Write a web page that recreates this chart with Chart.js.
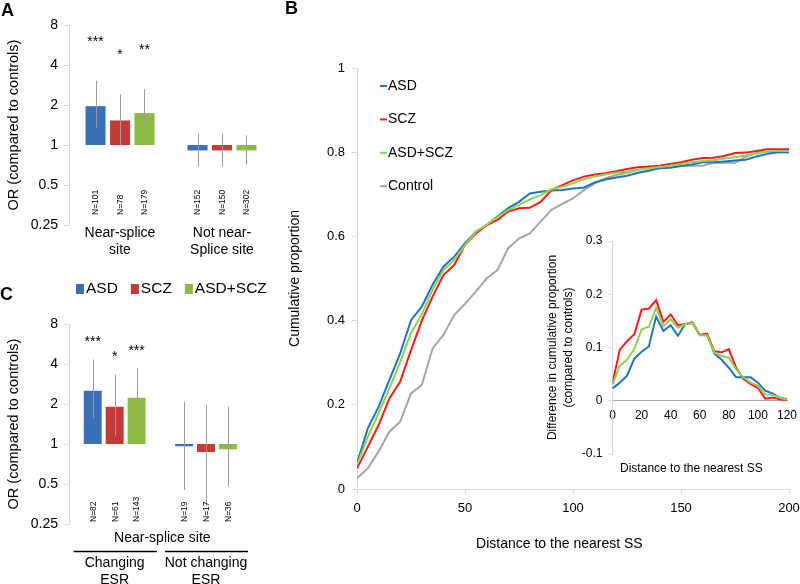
<!DOCTYPE html>
<html><head><meta charset="utf-8">
<script src="https://cdn.jsdelivr.net/npm/chart.js@4.4.1/dist/chart.umd.min.js"></script>
<style>
html,body{margin:0;padding:0;background:#fff;}
#wrap{position:relative;width:800px;height:584px;overflow:hidden;background:#fff;font-family:'Liberation Sans',Arial,sans-serif;}
#wrap canvas{position:absolute;}
.plbl{position:absolute;font-weight:bold;font-size:18px;line-height:18px;color:#000;}
</style></head><body>
<div id="wrap">
<canvas id="cA" width="280" height="268" style="left:0px;top:0px"></canvas>
<canvas id="cC" width="280" height="316" style="left:0px;top:268px"></canvas>
<canvas id="cB" width="550" height="584" style="left:270px;top:0px"></canvas>
<canvas id="cI" width="280" height="260" style="left:540px;top:225px"></canvas>
<div class="plbl" style="left:1px;top:1px">A</div>
<div class="plbl" style="left:285px;top:-1px">B</div>
<div class="plbl" style="left:0px;top:285px">C</div>
</div>
<script>
// ---------- shared ----------
const SERIES = ['ASD', 'SCZ', 'ASD+SCZ'];
const BAR_COLORS = ['#3a70b8', '#c23b37', '#8cbb45'];

// ---------- Panel A: OR, near-splice vs not ----------
const A_LABELS = [['Near-splice', 'site'], ['Not near-', 'Splice site']];
const A_OR_ASD = [1.96, 0.91];
const A_OR_SCZ = [1.53, 0.91];
const A_OR_ALL = [1.74, 0.91];
const A_LO_ASD = [1.34, 0.69];
const A_LO_SCZ = [1.0, 0.69];
const A_LO_ALL = [1.38, 0.71];
const A_HI_ASD = [3.04, 1.22];
const A_HI_SCZ = [2.41, 1.22];
const A_HI_ALL = [2.63, 1.18];
const A_N_ASD = [101, 152];
const A_N_SCZ = [78, 150];
const A_N_ALL = [179, 302];
const A_SIG_ASD = ['***', ''];
const A_SIG_SCZ = ['*', ''];
const A_SIG_ALL = ['**', ''];

// ---------- Panel C: OR, changing vs not changing ESR ----------
const C_HEADER = 'Near-splice site';
const C_LABELS = [['Changing', 'ESR'], ['Not changing', 'ESR']];
const C_OR_ASD = [2.52, 0.96];
const C_OR_SCZ = [1.91, 0.87];
const C_OR_ALL = [2.23, 0.915];
const C_LO_ASD = [1.55, 0.45];
const C_LO_SCZ = [1.16, 0.34];
const C_LO_ALL = [1.42, 0.48];
const C_HI_ASD = [4.32, 2.08];
const C_HI_SCZ = [3.33, 1.96];
const C_HI_ALL = [3.73, 1.91];
const C_N_ASD = [82, 19];
const C_N_SCZ = [61, 17];
const C_N_ALL = [143, 36];
const C_SIG_ASD = ['***', ''];
const C_SIG_SCZ = ['*', ''];
const C_SIG_ALL = ['***', ''];

const OR_TICKS = [0.25, 0.5, 1, 2, 4, 8];

// ---------- Panel B: cumulative proportion ----------
const B_DIST = [0,5,10,15,20,25,30,35,40,45,50,55,60,65,70,75,80,85,90,95,100,105,110,115,120,125,130,135,140,145,150,155,160,165,170,175,180,185,190,195,200];
const B_ASD  = [0.061,0.144,0.195,0.259,0.322,0.401,0.433,0.485,0.528,0.552,0.584,0.611,0.627,0.647,0.667,0.682,0.702,0.706,0.709,0.710,0.714,0.716,0.728,0.735,0.740,0.744,0.751,0.756,0.762,0.763,0.767,0.771,0.776,0.776,0.778,0.780,0.782,0.790,0.796,0.800,0.800];
const B_SCZ  = [0.049,0.100,0.152,0.215,0.255,0.330,0.400,0.457,0.508,0.532,0.580,0.607,0.626,0.639,0.659,0.667,0.668,0.682,0.710,0.722,0.733,0.742,0.747,0.750,0.755,0.760,0.764,0.766,0.768,0.772,0.776,0.782,0.786,0.787,0.791,0.798,0.799,0.803,0.807,0.807,0.807];
const B_ALL  = [0.057,0.124,0.180,0.239,0.302,0.370,0.415,0.473,0.520,0.544,0.580,0.611,0.627,0.646,0.663,0.675,0.688,0.698,0.712,0.718,0.726,0.736,0.742,0.747,0.751,0.754,0.758,0.762,0.765,0.768,0.772,0.776,0.779,0.781,0.785,0.788,0.792,0.797,0.802,0.803,0.803];
const B_CTRL = [0.025,0.049,0.089,0.136,0.160,0.227,0.247,0.334,0.366,0.413,0.440,0.469,0.500,0.520,0.572,0.595,0.607,0.635,0.663,0.677,0.690,0.710,0.726,0.738,0.746,0.751,0.758,0.762,0.766,0.768,0.768,0.768,0.768,0.775,0.775,0.775,0.789,0.799,0.800,0.800,0.800];
const B_NAMES = ['ASD', 'SCZ', 'ASD+SCZ', 'Control'];
const LINE_COLORS = {'ASD': '#1f74c4', 'SCZ': '#ff1a1a', 'ASD+SCZ': '#92d050', 'Control': '#a6a6a6'};

// ---------- Inset: difference vs controls ----------
const I_DIST = [0,5,10,15,20,25,30,35,40,45,50,55,60,65,70,75,80,85,90,95,100,105,110,115,120];
const I_ASD = [0.023,0.034,0.047,0.079,0.092,0.102,0.158,0.131,0.142,0.122,0.144,0.146,0.123,0.125,0.089,0.077,0.062,0.044,0.044,0.044,0.034,0.019,0.014,0.006,0.003];
const I_SCZ = [0.033,0.096,0.112,0.125,0.171,0.173,0.189,0.148,0.162,0.142,0.144,0.147,0.124,0.126,0.093,0.091,0.097,0.062,0.041,0.031,0.024,0.004,0.006,0.003,0.001];
const I_ALL = [0.030,0.066,0.077,0.097,0.134,0.139,0.175,0.140,0.153,0.137,0.144,0.146,0.123,0.123,0.091,0.084,0.081,0.059,0.044,0.034,0.028,0.012,0.011,0.006,0.002];

// ======================================================
const FONT = "'Liberation Sans', Arial, Helvetica, sans-serif";
Chart.defaults.font.family = FONT;
Chart.defaults.color = '#000';
Chart.defaults.animation = false;
const AXIS_GREY = '#d9d9d9';

const barExtras = {
  id: 'barExtras',
  afterDatasetsDraw(chart, args, o) {
    if (!o || !o.on) return;
    const ctx = chart.ctx, ys = chart.scales.y, area = chart.chartArea;
    ctx.save();
    chart.data.datasets.forEach((ds, i) => {
      chart.getDatasetMeta(i).data.forEach((bar, j) => {
        const x = Math.round(bar.x) + 0.5;
        const yHi = ys.getPixelForValue(ds.hi[j]);
        const yLo = ys.getPixelForValue(ds.lo[j]);
        ctx.strokeStyle = '#9c9c9c';
        ctx.lineWidth = 1;
        ctx.beginPath(); ctx.moveTo(x, yHi); ctx.lineTo(x, yLo); ctx.stroke();
        ctx.save();
        ctx.translate(bar.x + 0.5, area.bottom - o.nOffset);
        ctx.rotate(-Math.PI / 2);
        ctx.font = '8.5px ' + FONT;
        ctx.fillStyle = '#000';
        ctx.textAlign = 'left';
        ctx.textBaseline = 'middle';
        ctx.fillText('N=' + ds.n[j], 0, 0);
        ctx.restore();
        if (ds.sig[j]) {
          ctx.font = '14px ' + FONT;
          ctx.fillStyle = '#000';
          ctx.textAlign = 'center';
          ctx.textBaseline = 'middle';
          ctx.fillText(ds.sig[j], bar.x, yHi - o.starGap + 3);
        }
      });
    });
    if (o.header) {
      const xs = chart.scales.x;
      ctx.font = '14px ' + FONT;
      ctx.fillStyle = '#000';
      ctx.textAlign = 'center';
      ctx.textBaseline = 'middle';
      ctx.fillText(o.header, (area.left + area.right) / 2 + 2, o.headerY);
      ctx.strokeStyle = '#000';
      ctx.lineWidth = 1.6;
      xs.ticks.forEach((t, k) => {
        const cx = xs.getPixelForTick(k);
        ctx.beginPath(); ctx.moveTo(cx - 41, o.ruleY); ctx.lineTo(cx + 42, o.ruleY); ctx.stroke();
      });
    }
    if (o.legend) {
      ctx.font = '15.5px ' + FONT;
      ctx.textAlign = 'left';
      ctx.textBaseline = 'middle';
      let x = o.legend.x;
      chart.data.datasets.forEach(ds => {
        ctx.fillStyle = ds.backgroundColor;
        ctx.fillRect(x, o.legend.y - 5, 8, 10);
        ctx.fillStyle = '#000';
        ctx.fillText(ds.label, x + 10, o.legend.y);
        x += 10 + ctx.measureText(ds.label).width + 13;
      });
    }
    ctx.restore();
  }
};

function barChart(id, labels, orS, loS, hiS, nS, sigS, extras, padTop, xHeight, tickPad) {
  return new Chart(document.getElementById(id), {
    type: 'bar',
    data: {
      labels: labels,
      datasets: SERIES.map((name, k) => ({
        label: name,
        data: orS[k].map(v => [1, v]),
        lo: loS[k], hi: hiS[k], n: nS[k], sig: sigS[k],
        backgroundColor: BAR_COLORS[k],
        borderWidth: 0,
        categoryPercentage: 0.72,
        barPercentage: 0.82
      }))
    },
    options: {
      responsive: false,
      devicePixelRatio: 1,
      animation: false,
      layout: { padding: { top: padTop, right: 7, left: 0, bottom: 0 } },
      plugins: { legend: { display: false }, tooltip: { enabled: false }, barExtras: extras },
      scales: {
        x: {
          grid: { display: false, drawTicks: false },
          border: { display: false },
          ticks: { font: { size: 14, lineHeight: 17 / 14 }, padding: tickPad, maxRotation: 0, autoSkip: false, color: '#000' },
          afterFit: s => { s.height = xHeight; }
        },
        y: {
          type: 'logarithmic',
          min: 0.25, max: 8,
          afterBuildTicks: s => { s.ticks = OR_TICKS.map(v => ({ value: v })); },
          ticks: { font: { size: 14 }, padding: 6, color: '#000', callback: v => String(v) },
          grid: { drawOnChartArea: false, drawTicks: true, tickLength: 5, color: AXIS_GREY },
          border: { color: AXIS_GREY },
          title: { display: true, text: 'OR (compared to controls)', font: { size: 14.5 }, padding: { top: 5, bottom: 0 } },
          afterFit: s => { s.width = 69; }
        }
      }
    },
    plugins: [barExtras]
  });
}

barChart('cA', A_LABELS,
  [A_OR_ASD, A_OR_SCZ, A_OR_ALL], [A_LO_ASD, A_LO_SCZ, A_LO_ALL], [A_HI_ASD, A_HI_SCZ, A_HI_ALL],
  [A_N_ASD, A_N_SCZ, A_N_ALL], [A_SIG_ASD, A_SIG_SCZ, A_SIG_ALL],
  { on: true, nOffset: 10, starGap: 42 }, 25, 43, 0);

barChart('cC', C_LABELS,
  [C_OR_ASD, C_OR_SCZ, C_OR_ALL], [C_LO_ASD, C_LO_SCZ, C_LO_ALL], [C_HI_ASD, C_HI_SCZ, C_HI_ALL],
  [C_N_ASD, C_N_SCZ, C_N_ALL], [C_SIG_ASD, C_SIG_SCZ, C_SIG_ALL],
  { on: true, nOffset: 2, starGap: 20, header: C_HEADER, headerY: 270, ruleY: 283.5, legend: { x: 76, y: 21 } }, 56, 60, 31);

// ---------- line legend plugin ----------
const lineLegend = {
  id: 'lineLegend',
  afterDraw(chart, args, o) {
    if (!o || !o.on) return;
    const ctx = chart.ctx;
    ctx.save();
    ctx.font = '14px ' + FONT;
    ctx.textAlign = 'left';
    ctx.textBaseline = 'middle';
    o.order.forEach((name, k) => {
      const ds = chart.data.datasets.find(d => d.label === name);
      const y = o.y0 + k * o.dy;
      ctx.strokeStyle = ds.borderColor;
      ctx.lineWidth = 2;
      ctx.beginPath(); ctx.moveTo(o.x, y); ctx.lineTo(o.x + 7, y); ctx.stroke();
      ctx.fillStyle = '#000';
      ctx.fillText(name, o.x + 8, y);
    });
    ctx.restore();
  }
};

function lineSet(label, xs, ys) {
  return {
    label: label,
    data: xs.map((d, i) => ({ x: d, y: ys[i] })),
    borderColor: LINE_COLORS[label],
    backgroundColor: LINE_COLORS[label],
    borderWidth: 2,
    pointRadius: 0,
    tension: 0,
    fill: false
  };
}

new Chart(document.getElementById('cB'), {
  type: 'line',
  data: {
    datasets: [
      lineSet('ASD+SCZ', B_DIST, B_ALL),
      lineSet('SCZ', B_DIST, B_SCZ),
      lineSet('ASD', B_DIST, B_ASD),
      lineSet('Control', B_DIST, B_CTRL)
    ]
  },
  options: {
    responsive: false,
    devicePixelRatio: 1,
    animation: false,
    layout: { padding: { top: 68, right: 31, left: 0, bottom: 0 } },
    plugins: {
      legend: { display: false }, tooltip: { enabled: false },
      lineLegend: { on: true, order: B_NAMES, x: 110, y0: 86, dy: 33.4 }
    },
    scales: {
      x: {
        type: 'linear', min: 0, max: 200,
        ticks: { stepSize: 50, font: { size: 13 }, padding: 7, color: '#000' },
        grid: { drawOnChartArea: false, drawTicks: true, tickLength: 5, color: AXIS_GREY },
        border: { color: AXIS_GREY },
        title: { display: true, text: 'Distance to the nearest SS\u00a0\u00a0\u00a0\u00a0\u00a0\u00a0\u00a0', font: { size: 14 }, padding: { top: 0, bottom: 31 } },
        afterFit: s => { s.height = 95; }
      },
      y: {
        min: 0, max: 1,
        ticks: { stepSize: 0.2, font: { size: 13 }, padding: 7, color: '#000', callback: v => String(Math.round(v * 10) / 10) },
        grid: { drawOnChartArea: false, drawTicks: true, tickLength: 5, color: AXIS_GREY },
        border: { color: AXIS_GREY },
        title: { display: true, text: 'Cumulative proportion', font: { size: 14 }, padding: { top: 17, bottom: 0 } },
        afterFit: s => { s.width = 87; }
      }
    }
  },
  plugins: [lineLegend]
});

new Chart(document.getElementById('cI'), {
  type: 'line',
  data: {
    datasets: [
      lineSet('ASD+SCZ', I_DIST, I_ALL),
      lineSet('SCZ', I_DIST, I_SCZ),
      lineSet('ASD', I_DIST, I_ASD)
    ]
  },
  options: {
    responsive: false,
    devicePixelRatio: 1,
    animation: false,
    layout: { padding: { top: 16, right: 33, left: 0, bottom: 0 } },
    plugins: { legend: { display: false }, tooltip: { enabled: false } },
    scales: {
      x: {
        type: 'linear', min: 0, max: 120,
        position: { y: 0 },
        ticks: { stepSize: 20, font: { size: 12 }, padding: 8, color: '#000' },
        grid: { drawOnChartArea: false, drawTicks: false },
        border: { color: '#a6a6a6' }
      },
      x2: {
        type: 'linear', position: 'bottom',
        ticks: { display: false },
        grid: { display: false, drawTicks: false },
        border: { display: false },
        title: { display: true, text: 'Distance to the nearest SS\u00a0\u00a0\u00a0\u00a0\u00a0', font: { size: 12 }, padding: { top: 0, bottom: 9 } },
        afterFit: s => { s.height = 31; }
      },
      y: {
        min: -0.1, max: 0.3,
        ticks: { stepSize: 0.1, font: { size: 12 }, padding: 6, color: '#000', callback: v => String(Math.round(v * 10) / 10) },
        grid: { drawOnChartArea: false, drawTicks: true, tickLength: 4, color: AXIS_GREY },
        border: { color: AXIS_GREY },
        title: { display: true, text: ['Difference in cumulative proportion', '(compared to controls)'], font: { size: 12, lineHeight: 1.3 }, padding: { top: 5, bottom: 0 } },
        afterFit: s => { s.width = 72.5; }
      }
    }
  }
});
</script>
</body></html>
